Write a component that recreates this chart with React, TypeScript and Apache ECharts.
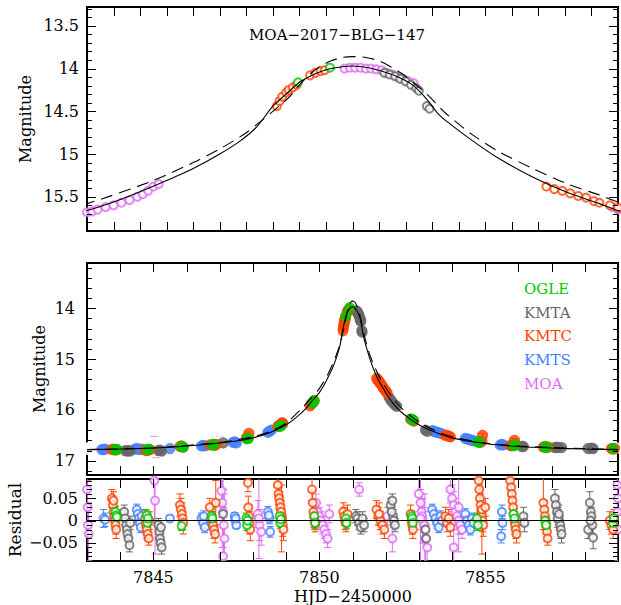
import React, { useEffect, useRef } from 'react';
import * as echarts from 'echarts';

const FONT = '"DejaVu Serif", serif';

const COLORS: Record<string, string> = {
  OGLE: '#00c800',
  KMTA: '#666666',
  KMTC: '#ff4400',
  KMTS: '#4682ff',
  MOA: '#dd6cf5',
};
const observatories = ['OGLE', 'KMTA', 'KMTC', 'KMTS', 'MOA'];
const drawOrder = ['MOA', 'KMTS', 'KMTA', 'KMTC', 'OGLE'];

// model light curves [HJD-2450000, mag]
const solidCurve = [
  [7843.0, 16.78], [7844.0, 16.77], [7845.0, 16.75], [7846.0, 16.71], [7847.0, 16.65], [7847.5, 16.61],
  [7848.0, 16.55], [7848.5, 16.45], [7849.0, 16.29], [7849.3, 16.15], [7849.6, 15.97], [7849.8, 15.81],
  [7850.0, 15.66], [7850.1, 15.56], [7850.2, 15.44], [7850.3, 15.31], [7850.4, 15.17], [7850.5, 15.0],
  [7850.58, 14.84], [7850.64, 14.68], [7850.7, 14.44], [7850.75, 14.3], [7850.8, 14.16], [7850.86, 14.06],
  [7850.92, 14.0], [7851.0, 13.97], [7851.06, 13.99], [7851.12, 14.04], [7851.18, 14.11], [7851.23, 14.2],
  [7851.28, 14.36], [7851.32, 14.52], [7851.36, 14.63], [7851.45, 14.84], [7851.55, 15.05], [7851.68, 15.27],
  [7851.81, 15.45], [7851.93, 15.58], [7852.0, 15.66], [7852.2, 15.85], [7852.5, 16.06], [7853.0, 16.29],
  [7853.5, 16.44], [7854.0, 16.55], [7855.0, 16.66], [7856.0, 16.72], [7857.0, 16.75], [7858.0, 16.77],
  [7859.0, 16.78],
];
const dashedCurve = [
  [7843.0, 16.78], [7845.0, 16.75], [7846.0, 16.7], [7847.0, 16.64], [7848.0, 16.53], [7848.5, 16.43],
  [7849.0, 16.26], [7849.5, 15.95], [7849.8, 15.73], [7850.0, 15.58], [7850.25, 15.31], [7850.4, 15.1],
  [7850.5, 14.94], [7850.6, 14.75], [7850.7, 14.5], [7850.76, 14.34], [7850.8, 14.19], [7850.85, 14.04],
  [7850.88, 13.97], [7850.92, 13.91], [7850.96, 13.87], [7851.0, 13.86], [7851.05, 13.87], [7851.1, 13.91],
  [7851.15, 13.99], [7851.2, 14.09], [7851.28, 14.3], [7851.35, 14.52], [7851.45, 14.77], [7851.55, 14.97],
  [7851.68, 15.17], [7851.81, 15.35], [7851.93, 15.48], [7852.0, 15.56], [7852.2, 15.75], [7852.5, 15.98],
  [7853.0, 16.24], [7853.5, 16.41], [7854.0, 16.53], [7855.0, 16.65], [7856.0, 16.71], [7857.0, 16.74],
  [7858.0, 16.76], [7859.0, 16.78],
];

// light curve points [t, mag, err?]
const ogleLc = [
  [7843.85, 16.78], [7843.9, 16.78], [7844.82, 16.78], [7844.86, 16.77], [7845.85, 16.72], [7845.9, 16.73],
  [7846.78, 16.69], [7846.82, 16.68], [7847.82, 16.57], [7847.86, 16.56], [7848.8, 16.33], [7848.85, 16.31],
  [7849.8, 15.86], [7849.84, 15.82], [7850.795, 14.16], [7850.915, 13.99], [7852.78, 16.18], [7852.83, 16.2],
  [7854.78, 16.63], [7854.82, 16.64], [7855.85, 16.7], [7855.9, 16.7], [7856.8, 16.73], [7856.85, 16.73],
  [7858.85, 16.76],
];
const kmtaLc = [
  [7844.15, 16.8], [7844.2, 16.81], [7844.25, 16.8], [7844.3, 16.81], [7845.15, 16.8], [7845.2, 16.79],
  [7845.25, 16.81], [7847.1, 16.65], [7851.12, 14.05], [7851.14, 14.07], [7851.16, 14.09], [7851.18, 14.12],
  [7851.2, 14.15], [7851.22, 14.19], [7851.24, 14.23], [7851.25, 14.26], [7851.28, 14.44], [7851.29, 14.47],
  [7852.1, 15.75], [7852.15, 15.8], [7852.2, 15.85], [7852.28, 15.9], [7852.33, 15.93], [7853.2, 16.4],
  [7853.25, 16.42], [7856.1, 16.72], [7856.15, 16.72], [7857.1, 16.74], [7857.15, 16.73], [7857.2, 16.74],
  [7857.3, 16.74], [7858.1, 16.76], [7858.2, 16.75], [7858.25, 16.76],
];
const kmtcLc = [
  [7843.75, 16.78], [7843.8, 16.77], [7843.85, 16.79], [7843.9, 16.78], [7844.75, 16.79], [7844.8, 16.8],
  [7844.85, 16.79], [7844.9, 16.78], [7845.8, 16.72], [7845.85, 16.71], [7845.9, 16.73], [7846.7, 16.69],
  [7846.8, 16.68], [7846.85, 16.7], [7846.9, 16.68], [7847.8, 16.55], [7847.85, 16.56], [7847.88, 16.46, 0.03],
  [7848.75, 16.32], [7848.8, 16.3], [7848.85, 16.28], [7848.88, 16.25], [7848.9, 16.27], [7849.72, 15.92],
  [7849.76, 15.88], [7849.8, 15.85], [7849.85, 15.82], [7850.715, 14.44], [7850.725, 14.38], [7850.735, 14.33],
  [7850.75, 14.28], [7850.76, 14.25], [7850.775, 14.22], [7850.79, 14.19], [7850.84, 14.08], [7850.86, 14.05],
  [7850.88, 14.03], [7850.895, 14.02], [7851.73, 15.38], [7851.76, 15.41], [7851.79, 15.43], [7851.82, 15.46],
  [7851.85, 15.49], [7851.88, 15.51], [7851.91, 15.55], [7851.93, 15.57], [7851.97, 15.6], [7852.0, 15.63],
  [7852.04, 15.66], [7852.75, 16.18], [7852.8, 16.2], [7852.85, 16.22], [7853.8, 16.5], [7853.85, 16.5],
  [7853.9, 16.52], [7853.95, 16.53], [7854.8, 16.63], [7854.85, 16.64], [7854.9, 16.62], [7854.92, 16.5, 0.035],
  [7855.75, 16.7], [7855.8, 16.71], [7855.85, 16.69], [7855.9, 16.68], [7855.88, 16.6, 0.04], [7856.75, 16.73],
  [7856.8, 16.72], [7856.85, 16.74], [7856.9, 16.73], [7858.8, 16.76], [7858.85, 16.77], [7858.9, 16.76],
];
const kmtsLc = [
  [7843.45, 16.78], [7843.5, 16.78], [7843.55, 16.77], [7844.45, 16.77], [7844.5, 16.76], [7844.55, 16.77],
  [7844.6, 16.78], [7844.65, 16.77], [7845.5, 16.76], [7846.45, 16.71], [7846.5, 16.7], [7846.55, 16.71],
  [7847.4, 16.64], [7847.45, 16.63], [7847.5, 16.65], [7848.45, 16.44], [7848.5, 16.42], [7848.55, 16.4],
  [7853.4, 16.41], [7853.45, 16.42], [7853.5, 16.43], [7853.55, 16.44], [7853.6, 16.45], [7853.7, 16.47],
  [7854.4, 16.56], [7854.45, 16.57], [7854.5, 16.58], [7854.55, 16.59], [7854.6, 16.6], [7854.65, 16.61],
  [7855.45, 16.69], [7855.5, 16.68], [7855.55, 16.69],
];
const moaLc = [
  [7843.0, 16.76, 0.05], [7843.02, 16.73, 0.05], [7843.04, 16.79, 0.05], [7845.02, 16.62, 0.1],
  [7845.05, 16.74, 0.08], [7845.08, 16.84, 0.1], [7847.0, 16.6, 0.08], [7847.05, 16.7, 0.05],
  [7847.1, 16.73, 0.05], [7848.15, 16.44, 0.06], [7848.2, 16.4, 0.05], [7848.25, 16.48, 0.04],
  [7849.92, 15.76, 0.01], [7849.96, 15.72, 0.01], [7850.0, 15.68, 0.01], [7850.02, 15.67, 0.01],
  [7850.04, 15.65, 0.01], [7850.07, 15.62, 0.01], [7850.1, 15.6, 0.01], [7850.13, 15.57, 0.01],
  [7850.16, 15.54, 0.01], [7850.19, 15.5, 0.01], [7850.21, 15.47, 0.01], [7850.23, 15.43, 0.01],
  [7850.25, 15.38, 0.01], [7850.27, 15.35, 0.01], [7850.97, 14.0, 0.01], [7850.99, 13.99, 0.01],
  [7851.01, 13.99, 0.01], [7851.03, 13.99, 0.01], [7851.05, 14.0, 0.01], [7851.07, 14.0, 0.01],
  [7851.09, 14.01, 0.01], [7851.11, 14.02, 0.01], [7851.13, 14.05, 0.01], [7851.15, 14.07, 0.01],
  [7851.17, 14.1, 0.01], [7851.19, 14.12, 0.01], [7851.21, 14.15, 0.01], [7851.23, 14.17, 0.01],
  [7851.98, 15.62, 0.01], [7852.0, 15.65, 0.01], [7852.1, 15.78, 0.02], [7852.15, 15.82, 0.02],
  [7852.2, 15.86, 0.02], [7852.95, 16.28, 0.05], [7853.0, 16.22, 0.06], [7853.05, 16.32, 0.04],
  [7853.1, 16.35, 0.05], [7853.15, 16.28, 0.06], [7853.25, 16.38, 0.04], [7853.95, 16.5, 0.02],
  [7854.0, 16.52, 0.02], [7854.05, 16.53, 0.02], [7854.1, 16.55, 0.02], [7854.15, 16.55, 0.02],
  [7854.2, 16.57, 0.02], [7854.3, 16.58, 0.02], [7858.98, 16.76, 0.03], [7859.0, 16.74, 0.03],
];

// residuals [t, residual, err]
const ogleRes = [
  [7843.86, 0.02, 0.012], [7843.88, 0.012, 0.012], [7843.9, 0.008, 0.012], [7844.8, 0.012, 0.012],
  [7844.82, -0.005, 0.012], [7844.84, 0.005, 0.012], [7845.85, -0.012, 0.01], [7846.75, 0.01, 0.015],
  [7846.78, 0.005, 0.015], [7847.8, 0.005, 0.012], [7847.82, -0.01, 0.012], [7847.84, 0.0, 0.012],
  [7848.8, 0.01, 0.012], [7848.82, -0.005, 0.012], [7848.84, 0.003, 0.012], [7849.85, 0.01, 0.012],
  [7849.87, -0.005, 0.012], [7850.8, 0.005, 0.012], [7850.82, -0.005, 0.012], [7852.78, 0.01, 0.012],
  [7852.8, 0.005, 0.012], [7852.82, -0.005, 0.012], [7854.75, 0.005, 0.012], [7854.78, -0.01, 0.012],
  [7855.85, 0.015, 0.012], [7855.88, 0.005, 0.012], [7856.8, 0.0, 0.012], [7856.83, -0.01, 0.012],
  [7858.85, -0.005, 0.012], [7858.87, 0.005, 0.012],
];
const kmtaRes = [
  [7844.12, 0.02, 0.015], [7844.15, 0.005, 0.015], [7844.18, -0.01, 0.015], [7844.2, -0.02, 0.015],
  [7844.22, -0.03, 0.015], [7844.25, -0.04, 0.015], [7844.28, -0.055, 0.015], [7844.3, -0.005, 0.015],
  [7845.15, -0.01, 0.015], [7845.18, -0.025, 0.015], [7845.2, -0.04, 0.015], [7845.22, -0.05, 0.015],
  [7845.25, -0.06, 0.015], [7845.23, -0.015, 0.015], [7847.1, 0.015, 0.015], [7851.1, 0.01, 0.015],
  [7851.15, 0.005, 0.015], [7851.2, -0.005, 0.015], [7851.25, -0.015, 0.015], [7851.3, 0.005, 0.015],
  [7851.35, -0.01, 0.015], [7852.15, 0.035, 0.015], [7852.2, 0.045, 0.015], [7852.22, 0.01, 0.015],
  [7852.25, 0.0, 0.015], [7852.28, -0.01, 0.015], [7852.18, 0.02, 0.015], [7853.2, -0.02, 0.015],
  [7853.22, -0.04, 0.015], [7856.15, 0.01, 0.02], [7856.18, -0.005, 0.02], [7857.1, 0.05, 0.02],
  [7857.13, 0.035, 0.02], [7857.16, 0.02, 0.02], [7857.2, 0.01, 0.02], [7857.23, 0.0, 0.02],
  [7857.26, -0.01, 0.02], [7857.28, -0.02, 0.02], [7857.3, -0.03, 0.02], [7857.18, 0.005, 0.02],
  [7857.22, 0.015, 0.02], [7858.1, -0.02, 0.02], [7858.15, 0.04, 0.025], [7858.18, 0.02, 0.02],
  [7858.2, 0.01, 0.02], [7858.23, -0.01, 0.02], [7858.25, -0.038, 0.025], [7858.17, 0.0, 0.02],
];
const kmtcRes = [
  [7843.75, 0.05, 0.02], [7843.78, 0.035, 0.02], [7843.8, 0.02, 0.02], [7843.82, 0.01, 0.02],
  [7843.84, 0.0, 0.02], [7843.86, -0.01, 0.02], [7843.88, -0.02, 0.02], [7843.8, 0.045, 0.02],
  [7844.75, 0.005, 0.02], [7844.78, -0.01, 0.02], [7844.8, -0.02, 0.02], [7844.83, -0.03, 0.015],
  [7844.86, -0.04, 0.015], [7844.88, 0.0, 0.02], [7845.8, 0.035, 0.025], [7845.83, 0.025, 0.025],
  [7845.86, 0.015, 0.025], [7845.88, 0.005, 0.025], [7845.9, -0.005, 0.025], [7846.7, 0.03, 0.02],
  [7846.75, 0.01, 0.02], [7846.78, 0.0, 0.02], [7846.8, -0.01, 0.02], [7846.83, -0.02, 0.02],
  [7846.86, -0.03, 0.02], [7846.88, 0.04, 0.05], [7847.85, 0.085, 0.02], [7847.86, 0.03, 0.025],
  [7847.88, 0.01, 0.025], [7847.9, -0.005, 0.025], [7847.92, -0.02, 0.025], [7848.75, 0.08, 0.02],
  [7848.77, 0.06, 0.025], [7848.79, 0.05, 0.025], [7848.81, 0.04, 0.025], [7848.83, 0.03, 0.025],
  [7848.85, 0.02, 0.025], [7848.87, 0.01, 0.025], [7848.88, 0.0, 0.025], [7848.9, -0.01, 0.025],
  [7848.92, -0.02, 0.025], [7848.86, 0.005, 0.075], [7849.78, 0.07, 0.025], [7849.8, 0.04, 0.025],
  [7849.82, 0.02, 0.025], [7849.84, 0.01, 0.025], [7849.86, 0.0, 0.02], [7849.88, -0.005, 0.02],
  [7850.72, 0.02, 0.02], [7850.75, 0.01, 0.02], [7850.78, 0.0, 0.02], [7850.8, -0.005, 0.02],
  [7850.85, 0.015, 0.02], [7851.72, 0.025, 0.02], [7851.78, 0.01, 0.02], [7851.84, 0.0, 0.02],
  [7851.9, -0.01, 0.02], [7851.96, -0.02, 0.02], [7851.8, 0.015, 0.025], [7852.75, 0.015, 0.02],
  [7852.78, 0.0, 0.02], [7852.8, -0.01, 0.02], [7852.82, -0.02, 0.02], [7853.8, 0.01, 0.02],
  [7853.85, -0.005, 0.02], [7853.9, 0.005, 0.02], [7853.95, -0.015, 0.02], [7854.8, 0.09, 0.02],
  [7854.82, 0.07, 0.025], [7854.84, 0.05, 0.025], [7854.86, 0.035, 0.025], [7854.88, 0.02, 0.025],
  [7854.9, 0.01, 0.025], [7854.92, 0.0, 0.025], [7854.94, -0.01, 0.025], [7854.9, 0.025, 0.1],
  [7855.0, 0.03, 0.02], [7855.75, 0.09, 0.02], [7855.78, 0.075, 0.02], [7855.8, 0.06, 0.02],
  [7855.82, 0.045, 0.02], [7855.84, 0.03, 0.02], [7855.86, 0.015, 0.02], [7855.88, 0.0, 0.02],
  [7855.9, -0.01, 0.02], [7855.92, -0.02, 0.02], [7855.94, -0.03, 0.02], [7856.75, 0.04, 0.06],
  [7856.78, 0.025, 0.02], [7856.8, 0.01, 0.02], [7856.82, 0.0, 0.02], [7856.84, -0.01, 0.02],
  [7856.86, -0.025, 0.02], [7856.88, -0.04, 0.015], [7858.75, 0.0, 0.02], [7858.8, -0.01, 0.02],
  [7858.85, -0.02, 0.02], [7858.88, 0.005, 0.02],
];
const kmtsRes = [
  [7843.5, 0.005, 0.02], [7843.55, 0.002, 0.015], [7844.5, 0.025, 0.012], [7844.53, 0.015, 0.012],
  [7844.56, 0.005, 0.012], [7844.59, -0.005, 0.012], [7844.62, -0.015, 0.012], [7844.65, 0.01, 0.012],
  [7845.5, 0.005, 0.006], [7846.45, 0.005, 0.012], [7846.5, -0.005, 0.012], [7846.55, -0.015, 0.012],
  [7846.52, 0.01, 0.012], [7847.45, 0.01, 0.008], [7847.47, 0.0, 0.008], [7847.5, -0.01, 0.008],
  [7847.48, 0.005, 0.008], [7848.45, 0.02, 0.012], [7848.5, 0.005, 0.012], [7848.52, -0.025, 0.012],
  [7848.48, 0.012, 0.012], [7853.4, 0.025, 0.012], [7853.45, 0.015, 0.012], [7853.5, 0.005, 0.012],
  [7853.55, -0.005, 0.012], [7853.6, -0.015, 0.012], [7853.65, 0.01, 0.012], [7853.7, 0.0, 0.012],
  [7854.4, 0.015, 0.012], [7854.45, 0.0, 0.012], [7854.5, -0.01, 0.012], [7854.55, -0.02, 0.012],
  [7854.6, 0.005, 0.012], [7854.65, -0.005, 0.012], [7855.5, 0.02, 0.015], [7855.52, -0.005, 0.015],
  [7855.48, -0.035, 0.015],
];
const moaRes = [
  [7843.0, 0.07, 0.08], [7843.02, 0.03, 0.06], [7843.03, -0.01, 0.05], [7843.05, -0.03, 0.06],
  [7845.03, 0.09, 0.1], [7845.05, 0.045, 0.12], [7847.05, 0.067, 0.06], [7847.08, 0.04, 0.1],
  [7847.1, 0.02, 0.08], [7847.12, -0.01, 0.08], [7847.14, -0.04, 0.1], [7847.1, -0.08, 0.1],
  [7848.15, 0.015, 0.03], [7848.2, -0.01, 0.035], [7848.25, -0.025, 0.03], [7848.18, 0.005, 0.09],
  [7849.9, 0.04, 0.02], [7849.95, 0.02, 0.02], [7850.0, 0.01, 0.02], [7850.05, 0.0, 0.02],
  [7850.1, -0.01, 0.02], [7850.15, -0.02, 0.02], [7850.2, -0.03, 0.02], [7850.25, -0.04, 0.02],
  [7850.3, 0.015, 0.02], [7851.2, 0.07, 0.015], [7852.05, 0.01, 0.02], [7852.2, -0.04, 0.03],
  [7853.0, 0.06, 0.04], [7853.05, 0.04, 0.03], [7853.08, 0.02, 0.04], [7853.1, 0.01, 0.03],
  [7853.12, 0.0, 0.05], [7853.15, -0.01, 0.04], [7853.18, -0.02, 0.08], [7853.2, -0.04, 0.06],
  [7853.25, -0.06, 0.05], [7853.05, 0.005, 0.12], [7853.95, 0.07, 0.03], [7854.0, 0.05, 0.03],
  [7854.05, 0.035, 0.03], [7854.1, 0.02, 0.03], [7854.15, 0.01, 0.03], [7854.2, 0.0, 0.03],
  [7854.25, -0.01, 0.02], [7854.3, -0.02, 0.02], [7854.05, -0.06, 0.04], [7854.2, 0.03, 0.1],
  [7858.98, 0.08, 0.08], [7859.0, 0.05, 0.06], [7858.99, 0.02, 0.05], [7859.0, -0.02, 0.07],
];

const lightCurves: Record<string, number[][]> = { OGLE: ogleLc, KMTA: kmtaLc, KMTC: kmtcLc, KMTS: kmtsLc, MOA: moaLc };
const residuals: Record<string, number[][]> = { OGLE: ogleRes, KMTA: kmtaRes, KMTC: kmtcRes, KMTS: kmtsRes, MOA: moaRes };

const titleText = 'MOA\u22122017\u2212BLG\u2212147';
const xAxisTitle = 'HJD\u22122450000';

// axis ranges and tick steps: [min, max, minorStep, majorStep]
const topX = [7850, 7852, 0.1, 0.5];
const topY = [13.28, 15.9, 0.1, 0.5];
const midX = [7843, 7859, 1, 5];
const midY = [13.11, 17.28, 0.2, 1];
const resX = [7843, 7859, 1, 5];
const resY = [-0.0905, 0.0935, 0.01, 0.05];

const near = (v: number, step: number) => Math.abs(v / step - Math.round(v / step)) < 1e-6;
const fmtSigned = (v: number) => (v < 0 ? '\u2212' + String(+Math.abs(v).toFixed(4)) : String(+v.toFixed(4)));

function tickValues(min: number, max: number, step: number) {
  const out: number[] = [];
  const k0 = Math.ceil(min / step - 1e-9);
  const k1 = Math.floor(max / step + 1e-9);
  for (let k = k0; k <= k1; k++) {
    const v = +(k * step).toFixed(6);
    if (v > min + 1e-9 && v < max - 1e-9) out.push(v);
  }
  return out;
}

function errorBars(data: number[][], color: string, xi: number, yi: number, cap: number) {
  return {
    type: 'custom',
    xAxisIndex: xi,
    yAxisIndex: yi,
    clip: true,
    silent: true,
    z: 2,
    data: data.filter((d) => d.length > 2),
    encode: { x: 0, y: 1 },
    renderItem: (_p: any, api: any) => {
      const t = api.value(0);
      const v = api.value(1);
      const e = api.value(2);
      const a = api.coord([t, v - e]);
      const b = api.coord([t, v + e]);
      const st = { stroke: color, lineWidth: 1 };
      return {
        type: 'group',
        children: [
          { type: 'line', shape: { x1: a[0], y1: a[1], x2: b[0], y2: b[1] }, style: st },
          { type: 'line', shape: { x1: a[0] - cap, y1: a[1], x2: a[0] + cap, y2: a[1] }, style: st },
          { type: 'line', shape: { x1: b[0] - cap, y1: b[1], x2: b[0] + cap, y2: b[1] }, style: st },
        ],
      };
    },
  };
}

// frame ticks on all four sides (inside), drawn through the axes' scales
function frameTicks(xi: number, yi: number, xr: number[], yr: number[], xLenMinor: number) {
  const data: number[][] = [];
  tickValues(xr[0], xr[1], xr[2]).forEach((v) => data.push([v, yr[0], 0, near(v, xr[3]) ? 9 : xLenMinor]));
  tickValues(yr[0], yr[1], yr[2]).forEach((v) => data.push([xr[0], v, 1, near(v, yr[3]) ? 9 : 5]));
  return {
    type: 'custom',
    xAxisIndex: xi,
    yAxisIndex: yi,
    clip: false,
    silent: true,
    z: 10,
    data,
    encode: { x: 0, y: 1 },
    renderItem: (params: any, api: any) => {
      const cs = params.coordSys;
      const kind = api.value(2);
      const len = api.value(3);
      const p = api.coord([api.value(0), api.value(1)]);
      const st = { stroke: '#000', lineWidth: 1 };
      if (kind === 0) {
        const x = Math.round(p[0]) + 0.5;
        return {
          type: 'group',
          children: [
            { type: 'line', shape: { x1: x, y1: cs.y + cs.height, x2: x, y2: cs.y + cs.height - len }, style: st },
            { type: 'line', shape: { x1: x, y1: cs.y, x2: x, y2: cs.y + len }, style: st },
          ],
        };
      }
      const y = Math.round(p[1]) + 0.5;
      return {
        type: 'group',
        children: [
          { type: 'line', shape: { x1: cs.x, y1: y, x2: cs.x + len, y2: y }, style: st },
          { type: 'line', shape: { x1: cs.x + cs.width, y1: y, x2: cs.x + cs.width - len, y2: y }, style: st },
        ],
      };
    },
  };
}

const axisLine = { show: true, onZero: false, lineStyle: { color: '#000', width: 2 } };
const labelStyle = { fontFamily: FONT, fontSize: 16, color: '#000' };

function xAxes(grid: number, r: number[], split: number, labels: boolean) {
  const base: any = {
    type: 'value', gridIndex: grid, min: r[0], max: r[1], splitNumber: split,
    axisLine, splitLine: { show: false }, axisTick: { show: false }, minorTick: { show: false },
  };
  return [
    {
      ...base, position: 'bottom',
      axisLabel: labels
        ? { ...labelStyle, show: true, margin: 8, formatter: (v: number) => (near(v, r[3]) ? String(Math.round(v)) : '') }
        : { show: false },
    },
    { ...base, position: 'top', axisLabel: { show: false } },
  ];
}

function yAxes(grid: number, r: number[], inverse: boolean, split: number, margin: number) {
  const base: any = {
    type: 'value', gridIndex: grid, min: r[0], max: r[1], inverse, splitNumber: split,
    axisLine, splitLine: { show: false }, axisTick: { show: false }, minorTick: { show: false },
  };
  return [
    {
      ...base, position: 'left',
      axisLabel: { ...labelStyle, show: true, margin, formatter: (v: number) => (near(v, r[3]) ? fmtSigned(v) : '') },
    },
    { ...base, position: 'right', axisLabel: { show: false } },
  ];
}

function buildOption() {
  const series: any[] = [];
  // top panel: grid 0 -> x 0, y 0
  drawOrder.forEach((name) => {
    series.push({
      type: 'scatter', xAxisIndex: 0, yAxisIndex: 0, clip: true, silent: true, z: 2,
      data: lightCurves[name].map((d) => [d[0], d[1]]),
      symbol: 'emptyCircle', symbolSize: 8,
      itemStyle: { color: COLORS[name], borderColor: COLORS[name], borderWidth: 1.6 },
    });
  });
  // middle panel: grid 1 -> x 2, y 2
  drawOrder.forEach((name) => {
    series.push(errorBars(lightCurves[name], COLORS[name], 2, 2, 3.5));
    const isMoa = name === 'MOA';
    series.push({
      type: 'scatter', xAxisIndex: 2, yAxisIndex: 2, clip: true, silent: true, z: 2,
      data: lightCurves[name].map((d) => [d[0], d[1]]),
      symbol: isMoa ? 'emptyCircle' : 'circle', symbolSize: isMoa ? 8 : 10,
      itemStyle: { color: isMoa ? '#fff' : COLORS[name], borderColor: COLORS[name], borderWidth: 1.2 },
    });
  });
  // residual panel: grid 2 -> x 4, y 4
  drawOrder.forEach((name) => {
    series.push(errorBars(residuals[name], COLORS[name], 4, 4, 3.5));
    series.push({
      type: 'scatter', xAxisIndex: 4, yAxisIndex: 4, clip: true, silent: true, z: 2,
      data: residuals[name].map((d) => [d[0], d[1]]),
      symbol: 'emptyCircle', symbolSize: 8,
      itemStyle: { color: COLORS[name], borderColor: COLORS[name], borderWidth: 1 },
    });
  });
  // model curves
  [[0, 0], [2, 2]].forEach(([xi, yi]) => {
    series.push({
      type: 'line', xAxisIndex: xi, yAxisIndex: yi, data: solidCurve, showSymbol: false, symbol: 'none',
      smooth: 0.25, clip: true, silent: true, z: 5, lineStyle: { color: '#000', width: 1.1 },
    });
    series.push({
      type: 'line', xAxisIndex: xi, yAxisIndex: yi, data: dashedCurve, showSymbol: false, symbol: 'none',
      smooth: 0.25, clip: true, silent: true, z: 5, lineStyle: { color: '#000', width: 1.1, type: [12, 7] },
    });
  });
  // zero line in residuals
  series.push({
    type: 'line', xAxisIndex: 4, yAxisIndex: 4, data: [], silent: true, z: 6,
    markLine: {
      silent: true, symbol: 'none', label: { show: false },
      lineStyle: { color: '#000', width: 1.2, type: 'solid' },
      data: [{ yAxis: 0 }],
    },
  });
  // frame ticks
  series.push(frameTicks(0, 0, topX, topY, 9));
  series.push(frameTicks(2, 2, midX, midY, 9));
  series.push(frameTicks(4, 4, resX, resY, 9));

  const textStyle = (size: number, color = '#000') => ({ fontFamily: FONT, fontSize: size, fill: color });

  const graphic: any[] = [
    { type: 'text', x: 337, y: 35, style: { ...textStyle(15), text: titleText, align: 'center', verticalAlign: 'middle' } },
    { type: 'text', x: 25, y: 119, rotation: Math.PI / 2, style: { ...textStyle(16), text: 'Magnitude', align: 'center', verticalAlign: 'middle' } },
    { type: 'text', x: 39, y: 369, rotation: Math.PI / 2, style: { ...textStyle(16), text: 'Magnitude', align: 'center', verticalAlign: 'middle' } },
    { type: 'text', x: 15, y: 520, rotation: Math.PI / 2, style: { ...textStyle(17), text: 'Residual', align: 'center', verticalAlign: 'middle' } },
    { type: 'text', x: 353, y: 596, style: { ...textStyle(16), text: xAxisTitle, align: 'center', verticalAlign: 'middle' } },
  ];
  const legendY = [289, 312.5, 336, 359.5, 383.5];
  observatories.forEach((name, i) => {
    graphic.push({
      type: 'text', x: 524, y: legendY[i],
      style: { ...textStyle(15, COLORS[name]), text: name, align: 'left', verticalAlign: 'middle' },
    });
  });

  return {
    animation: false,
    backgroundColor: '#fff',
    grid: [
      { left: 87, top: 7, width: 531, height: 224 },
      { left: 87, top: 263, width: 531, height: 212 },
      { left: 87, top: 479, width: 531, height: 82 },
    ],
    xAxis: [
      ...xAxes(0, topX, 4, false),
      ...xAxes(1, midX, 3, false),
      ...xAxes(2, resX, 3, true),
    ],
    yAxis: [
      ...yAxes(0, topY, true, 5, 8),
      ...yAxes(1, midY, true, 5, 12),
      ...yAxes(2, resY, false, 4, 9),
    ],
    series,
    graphic,
  };
}

export default function App() {
  const ref = useRef<HTMLDivElement>(null);
  useEffect(() => {
    if (!ref.current) return;
    const chart = echarts.init(ref.current, undefined, { renderer: 'svg' });
    chart.setOption(buildOption() as any);
    return () => chart.dispose();
  }, []);
  return (
    <div
      ref={ref}
      style={{ position: 'absolute', left: 0, top: 0, width: 621, height: 605, background: '#fff' }}
    />
  );
}
